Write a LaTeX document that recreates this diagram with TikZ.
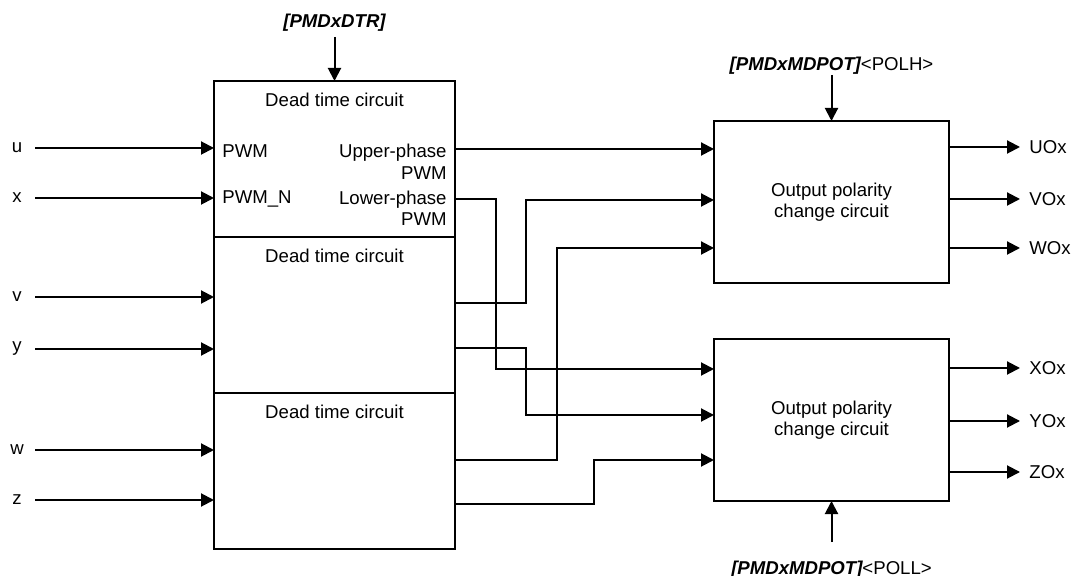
\documentclass[tikz,border=0pt]{standalone}
\usepackage{fontspec}
\setmainfont{Liberation Sans}
\usetikzlibrary{arrows.meta, positioning}

\begin{document}
\begin{tikzpicture}[
        x=0.5pt, y=-0.5pt,
        font=\fontsize{9.3pt}{10.8pt}\selectfont,
        dtbox/.style={rectangle, draw, line width=0.75pt, outer sep=0pt, minimum width=120.5pt, minimum height=78pt},
        opcbox/.style={rectangle, draw, line width=0.75pt, outer sep=0pt, minimum width=117.5pt, minimum height=81pt, align=center},
        dttitle/.style={inner sep=2pt},
        portlabel/.style={inner sep=2pt, align=right},
        inlabel/.style={minimum width=18pt, inner sep=0pt},
        outlabel/.style={inner xsep=4.5pt, inner ysep=0pt, anchor=west},
        reglabel/.style={inner xsep=0pt},
        sig/.style={draw, line width=1pt, -{Triangle[length=6.5pt, width=6.5pt]}}
    ]
        \useasboundingbox (0,0) rectangle (1075,576);

        % Dead time circuits
        \node[dtbox] (dt1) at (334.5,159) {};
        \node[dtbox, below=0pt of dt1] (dt2) {};
        \node[dtbox, below=0pt of dt2] (dt3) {};
        \node[dttitle, below=4pt of dt1.north] (dt1t) {Dead time circuit};
        \node[dttitle, below=4pt of dt2.north] (dt2t) {Dead time circuit};
        \node[dttitle, below=4pt of dt3.north] (dt3t) {Dead time circuit};

        \node[reglabel, inner ysep=2.5pt, above=22pt of dt1] (dtr) {\bfseries\itshape [PMDxDTR]};
        \draw[sig] (dtr) -- (dt1);

        % Inputs
        \node[inlabel] (u) at (17,148) {u};
        \node[inlabel] (x) at (17,198) {x};
        \node[inlabel] (v) at (17,297) {v};
        \node[inlabel] (y) at (17,349) {y};
        \node[inlabel] (w) at (17,450) {w};
        \node[inlabel] (z) at (17,500) {z};

        \draw[sig] (u) -- (u -| dt1.west);
        \draw[sig] (x) -- (x -| dt1.west);
        \draw[sig] (v) -- (v -| dt2.west);
        \draw[sig] (y) -- (y -| dt2.west);
        \draw[sig] (w) -- (w -| dt3.west);
        \draw[sig] (z) -- (z -| dt3.west);

        % Ports of the first dead time circuit
        \coordinate (dt1uo) at (455,149);
        \coordinate (dt1lo) at (455,199);
        \node[portlabel, anchor=west] (pwm) at ([xshift=2pt, yshift=-1.5pt]u -| dt1.west) {PWM};
        \node[portlabel, anchor=west] (pwmn) at ([xshift=2pt, yshift=-0.5pt]x -| dt1.west) {PWM\_N};
        \node[portlabel, anchor=north east] (upper) at ([xshift=-2pt, yshift=4.5pt]dt1uo) {Upper-phase\\PWM};
        \node[portlabel, anchor=north east] (lower) at ([xshift=-2pt, yshift=6.25pt]dt1lo) {Lower-phase\\PWM};

        \coordinate (dt2uo) at (455,303);
        \coordinate (dt2lo) at (455,348);
        \coordinate (dt3uo) at (455,460);
        \coordinate (dt3lo) at (455,504);

        % Output polarity change circuits
        \node[opcbox] (opc1) at (831.5,202) {Output polarity\\change circuit};
        \node[opcbox] (opc2) at (831.5,420) {Output polarity\\change circuit};

        \node[reglabel, inner ysep=0pt, above=23pt of opc1] (polh) {{\bfseries\itshape [PMDxMDPOT]}<POLH>};
        \node[reglabel, inner ysep=9.5pt, below=20.5pt of opc2] (poll) {{\bfseries\itshape [PMDxMDPOT]}<POLL>};
        \draw[sig] (polh) -- (opc1);
        \draw[sig] (poll) -- (opc2);

        \coordinate (opc1a) at (714,149);
        \coordinate (opc1b) at (714,200);
        \coordinate (opc1c) at (714,248);
        \coordinate (opc2a) at (714,369);
        \coordinate (opc2b) at (714,415);
        \coordinate (opc2c) at (714,460);

        \draw[sig] (dt1uo) -- (opc1a);
        \draw[sig] (dt1lo) -- ++(41,0) |- (opc2a);
        \draw[sig] (dt2uo) -- ++(71,0) |- (opc1b);
        \draw[sig] (dt2lo) -- ++(71,0) |- (opc2b);
        \draw[sig] (dt3uo) -- ++(102,0) |- (opc1c);
        \draw[sig] (dt3lo) -- ++(139,0) |- (opc2c);

        % Outputs
        \node[outlabel] (uo) at (1020,147) {UOx};
        \node[outlabel] (vo) at (1020,199) {VOx};
        \node[outlabel] (wo) at (1020,248) {WOx};
        \node[outlabel] (xo) at (1020,368) {XOx};
        \node[outlabel] (yo) at (1020,421) {YOx};
        \node[outlabel] (zo) at (1020,472) {ZOx};

        \draw[sig] (uo -| opc1.east) -- (uo);
        \draw[sig] (vo -| opc1.east) -- (vo);
        \draw[sig] (wo -| opc1.east) -- (wo);
        \draw[sig] (xo -| opc2.east) -- (xo);
        \draw[sig] (yo -| opc2.east) -- (yo);
        \draw[sig] (zo -| opc2.east) -- (zo);
\end{tikzpicture}
\end{document}
